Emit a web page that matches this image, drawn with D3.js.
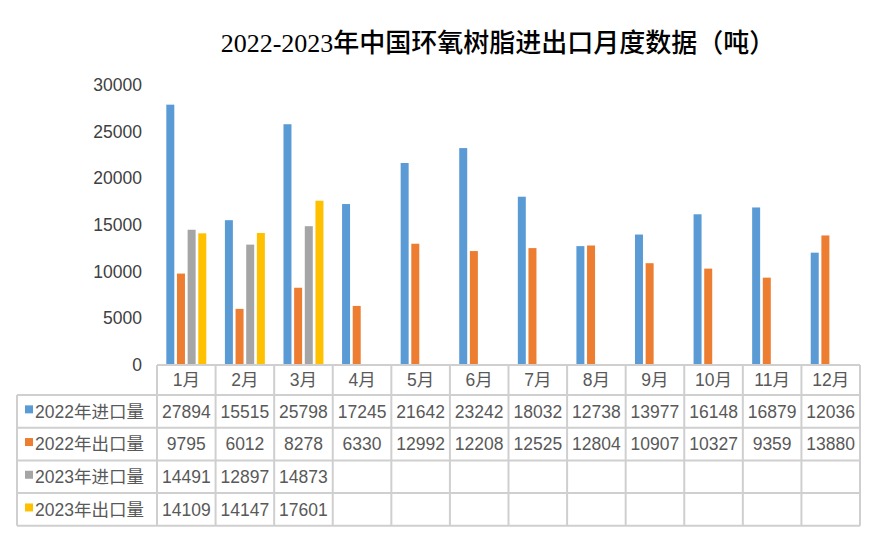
<!DOCTYPE html>
<html>
<head>
<meta charset="utf-8">
<script src="https://cdn.jsdelivr.net/npm/d3@7"></script>
<style>
  body { margin: 0; background: #fff; }
  svg { display: block; }
</style>
</head>
<body>
<svg id="chart" width="890" height="543"></svg>
<script>
// --- data ---
const months = ["1月", "2月", "3月", "4月", "5月", "6月", "7月", "8月", "9月", "10月", "11月", "12月"];
const seriesNames = ["2022年进口量", "2022年出口量", "2023年进口量", "2023年出口量"];
const import2022 = [27894, 15515, 25798, 17245, 21642, 23242, 18032, 12738, 13977, 16148, 16879, 12036];
const export2022 = [9795, 6012, 8278, 6330, 12992, 12208, 12525, 12804, 10907, 10327, 9359, 13880];
const import2023 = [14491, 12897, 14873];
const export2023 = [14109, 14147, 17601];
const yTicks = [0, 5000, 10000, 15000, 20000, 25000, 30000];
const colors = ["#5b9bd5", "#ed7d31", "#a5a5a5", "#ffc000"];

const seriesValues = [import2022, export2022, import2023, export2023];

const svg = d3.select("#chart");
const font = "'Liberation Sans', Arial, 'Noto Sans CJK SC', sans-serif";

const plot = { left: 157, right: 860, top: 85, bottom: 365 };
const rowH = 32.7;
const headH = 30;
const tableLeft = 17;

// Title
svg.append("text")
    .attr("x", 498).attr("y", 52)
    .attr("text-anchor", "middle")
    .style("font-family", "'Liberation Serif', 'DejaVu Serif', 'Noto Sans CJK SC', serif")
    .style("font-size", "26px")
    .style("font-weight", "500")
    .style("fill", "#000")
    .text("2022-2023年中国环氧树脂进出口月度数据（吨）");

// Scales
const x0 = d3.scaleBand().domain(months).range([plot.left, plot.right]).padding(0);
const cw = x0.bandwidth();
const x1 = d3.scaleBand().domain(d3.range(4))
    .range([cw * 0.159, cw * 0.841]).paddingInner(0.25).paddingOuter(0);
const y = d3.scaleLinear().domain([0, 30000]).range([plot.bottom, plot.top]);

// Y axis labels
const yAxis = svg.append("g")
    .attr("transform", `translate(${plot.left - 15},0)`)
    .call(d3.axisLeft(y).tickValues(yTicks).tickSize(0).tickPadding(0).tickFormat(d3.format("d")));
yAxis.select(".domain").remove();
yAxis.selectAll("text")
    .style("font-family", font).style("font-size", "17.5px").style("fill", "#404040");

// Bars
seriesValues.forEach((vals, si) => {
    svg.append("g").selectAll("rect")
        .data(vals)
        .join("rect")
        .attr("x", (d, i) => x0(months[i]) + x1(si))
        .attr("width", x1.bandwidth())
        .attr("y", d => y(d))
        .attr("height", d => y(0) - y(d))
        .attr("fill", colors[si]);
});

// Data table
const grid = svg.append("g")
    .attr("stroke", "#cfcfcf").attr("stroke-width", 2).attr("fill", "none");
const tableBottom = plot.bottom + headH + rowH * 4;

// horizontal lines
grid.append("line").attr("x1", plot.left).attr("x2", plot.right)
    .attr("y1", plot.bottom).attr("y2", plot.bottom);
for (let r = 0; r <= 4; r++) {
    const yy = plot.bottom + headH + r * rowH;
    grid.append("line").attr("x1", tableLeft).attr("x2", plot.right)
        .attr("y1", yy).attr("y2", yy);
}
// vertical lines
grid.append("line").attr("x1", tableLeft).attr("x2", tableLeft)
    .attr("y1", plot.bottom + headH).attr("y2", tableBottom);
months.forEach(m => {
    grid.append("line").attr("x1", x0(m)).attr("x2", x0(m))
        .attr("y1", plot.bottom).attr("y2", tableBottom);
});
grid.append("line").attr("x1", plot.right).attr("x2", plot.right)
    .attr("y1", plot.bottom).attr("y2", tableBottom);

// header
svg.append("g").selectAll("text")
    .data(months)
    .join("text")
    .attr("x", d => x0(d) + cw / 2)
    .attr("y", plot.bottom + headH / 2)
    .attr("dy", "0.36em")
    .attr("text-anchor", "middle")
    .style("font-family", font).style("font-size", "17.5px").style("fill", "#595959")
    .text(d => d);

// rows
seriesNames.forEach((name, si) => {
    const cy = plot.bottom + headH + si * rowH + rowH / 2;
    const row = svg.append("g");
    row.append("rect")
        .attr("x", 25).attr("y", cy - 6)
        .attr("width", 8).attr("height", 8)
        .attr("fill", colors[si]);
    row.append("text")
        .attr("x", 35).attr("y", cy).attr("dy", "0.36em")
        .style("font-family", font).style("font-size", "17.5px").style("fill", "#595959")
        .text(name);
    row.selectAll("text.v")
        .data(seriesValues[si])
        .join("text")
        .attr("class", "v")
        .attr("x", (d, i) => x0(months[i]) + cw / 2)
        .attr("y", cy).attr("dy", "0.36em")
        .attr("text-anchor", "middle")
        .style("font-family", font).style("font-size", "17.5px").style("fill", "#595959")
        .text(d => d);
});
</script>
</body>
</html>
